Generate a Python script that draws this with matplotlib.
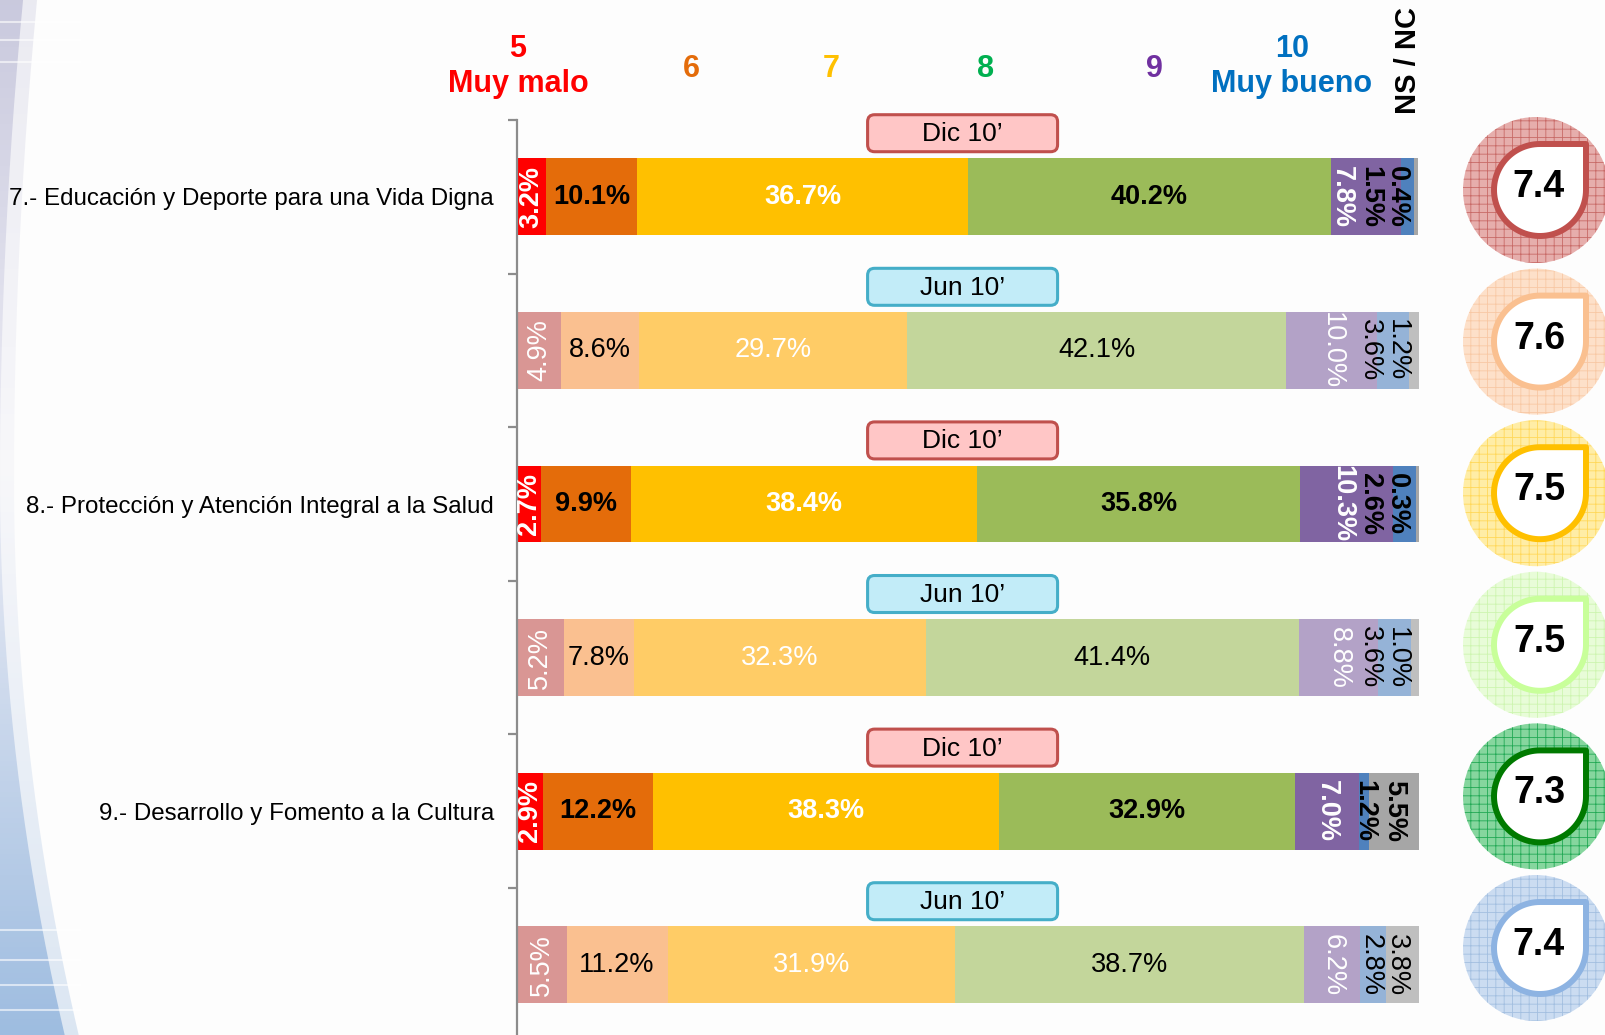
import matplotlib
matplotlib.use('Agg')
import matplotlib.pyplot as plt
import matplotlib.transforms as mtransforms
from matplotlib.patches import Circle, FancyBboxPatch, PathPatch
from matplotlib.path import Path
import numpy as np

# ---------------- data ----------------
categories = ['7.- Educación y Deporte para una Vida Digna',
              '8.- Protección y Atención Integral a la Salud',
              '9.- Desarrollo y Fomento a la Cultura']
periods = ['Dic 10’', 'Jun 10’', 'Dic 10’', 'Jun 10’', 'Dic 10’', 'Jun 10’']
scale_labels = ['5\nMuy malo', '6', '7', '8', '9', '10\nMuy bueno', 'NS / NC']
s5 = [3.2, 4.9, 2.7, 5.2, 2.9, 5.5]
s6 = [10.1, 8.6, 9.9, 7.8, 12.2, 11.2]
s7 = [36.7, 29.7, 38.4, 32.3, 38.3, 31.9]
s8 = [40.2, 42.1, 35.8, 41.4, 32.9, 38.7]
s9 = [7.8, 10.0, 10.3, 8.8, 7.0, 6.2]
s10 = [1.5, 3.6, 2.6, 3.6, 1.2, 2.8]
ns_nc = [0.4, 1.2, 0.3, 1.0, 5.5, 3.8]
scores = [7.4, 7.6, 7.5, 7.5, 7.3, 7.4]

# ---------------- styles ----------------
W, H = 1606, 1035
NARROW = ['Liberation Sans Narrow', 'Liberation Sans', 'DejaVu Sans']
SANS = ['Liberation Sans', 'DejaVu Sans']
dic_colors = ['#ff0000', '#e46c0a', '#ffc000', '#9bbb59', '#8064a2', '#4f81bd', '#a6a6a6']
jun_colors = ['#d99694', '#fac090', '#ffcc66', '#c3d69b', '#b3a2c7', '#95b3d7', '#bfbfbf']
txt_colors = ['white', 'black', 'white', 'black', 'white', 'black', 'black']
head_colors = ['#ff0000', '#e46c0a', '#ffc000', '#00b050', '#7030a0', '#0070c0', 'black']
head_x = [0.1, 19.3, 34.8, 51.9, 70.7, 85.9, 98.75]
circ_face = ['#e6aeac', '#fde0c9', '#ffeda6', '#e8fcd8', '#86d69e', '#cbdcf1']
circ_hatch = ['#c86a67', '#f8c8a4', '#ffd85a', '#cdf5b0', '#22a955', '#a3bfe0']
circ_edge = ['#c0504d', '#fac090', '#ffc000', '#c8ff9a', '#007a00', '#8db3e2']

plt.rcParams['font.family'] = SANS
fig = plt.figure(figsize=(W / 100, H / 100), dpi=100, facecolor='#fdfdfd')

# background layer (pixel coords)
bg = fig.add_axes([0, 0, 1, 1], zorder=0)
bg.set_xlim(0, W); bg.set_ylim(H, 0); bg.axis('off')
yy = np.linspace(0, H, 300)
xc = np.where(yy < 480, 0.0001 * (yy - 480) ** 2, 0.00021 * (yy - 480) ** 2)
for extra, alpha in [(14, 0.35), (0, 1.0)]:
    verts = [(0, 0)] + list(zip(xc + extra, yy)) + [(0, H), (0, 0)]
    clip = PathPatch(Path(verts), facecolor='none', edgecolor='none')
    bg.add_patch(clip)
    grad = np.zeros((200, 1, 3))
    t = np.linspace(0, 1, 200)
    top = np.array([0.79, 0.79, 0.87]); mid = np.array([0.93, 0.93, 0.96]); bot = np.array([0.62, 0.74, 0.88])
    for i, v in enumerate(t):
        grad[i, 0] = top + (mid - top) * (v / 0.45) if v < 0.45 else mid + (bot - mid) * ((v - 0.45) / 0.55)
    im = bg.imshow(grad, extent=[0, 120, H, 0], aspect='auto', alpha=alpha, zorder=1)
    im.set_clip_path(clip)
for yl in [22, 40, 62, 930, 960, 985, 1010]:
    bg.plot([0, 80], [yl, yl], color='white', lw=1.5, alpha=0.6, zorder=2)

# main axes
L, R, T, B = 517, 1419, 120, 1041.6
ax = fig.add_axes([L / W, 1 - B / H, (R - L) / W, (B - T) / H], zorder=2)
ax.patch.set_alpha(0)
series = [s5, s6, s7, s8, s9, s10, ns_nc]
rows = np.arange(len(s5))
left = np.zeros(len(s5))
for j, s in enumerate(series):
    cols = [dic_colors[j] if i % 2 == 0 else jun_colors[j] for i in rows]
    ax.barh(rows, s, left=left, height=0.5, color=cols, edgecolor='none', zorder=2)
    left = left + np.array(s)
ax.set_xlim(0, 100)
ax.set_ylim(5.5, -0.5)
for sp in ['top', 'right', 'bottom']:
    ax.spines[sp].set_visible(False)
ax.spines['left'].set_color('#8c8c8c'); ax.spines['left'].set_linewidth(1.6)
ax.set_xticks([])
ax.set_yticks(np.arange(-0.5, 6, 1))
ax.tick_params(axis='y', which='major', length=6.5, width=1.6, color='#8c8c8c', labelleft=False)
ax.set_yticks([0, 2, 4], minor=True)
ax.set_yticklabels(categories, minor=True, fontsize=17.4, family=SANS)
ax.tick_params(axis='y', which='minor', length=0, pad=16.5)

# segment labels
for i in rows:
    vals = [s[i] for s in series]
    cum = np.concatenate([[0], np.cumsum(vals)])
    centers = (cum[:-1] + cum[1:]) / 2
    pos = centers.copy()
    pos[6] = min(centers[6], 97.6)
    pos[5] = min(centers[5], pos[6] - 3.0)
    pos[4] = min(centers[4], pos[5] - 3.1)
    weight = 'bold' if i % 2 == 0 else 'normal'
    for j in range(7):
        rot = 90 if j == 0 else (270 if j >= 4 else 0)
        ax.text(pos[j], i, f'{vals[j]:.1f}%', rotation=rot, ha='center', va='center',
                rotation_mode='anchor', color=txt_colors[j], fontsize=19.5, weight=weight,
                family=SANS, zorder=4)

# foreground pixel layer
fg = fig.add_axes([0, 0, 1, 1], zorder=3)
fg.set_xlim(0, W); fg.set_ylim(H, 0); fg.axis('off'); fg.patch.set_alpha(0)

def px(xd, row):
    return L + xd / 100 * (R - L), T + (row + 0.5) * (B - T) / 6

# period boxes
for i, p in enumerate(periods):
    cx, cy = px(49.4, i - 0.414)
    fc, ec = ('#ffc6c6', '#c0504d') if i % 2 == 0 else ('#c2ecf8', '#45aec8')
    bw, bh = 190, 37
    fg.add_patch(FancyBboxPatch((cx - bw / 2, cy - bh / 2), bw, bh,
                                boxstyle='round,pad=0,rounding_size=7', fc=fc, ec=ec, lw=2.2))
    fg.text(cx, cy + 1, p, ha='center', va='center', fontsize=19, family=NARROW)

# header labels
hb = mtransforms.blended_transform_factory(ax.transData, fg.transData)
for k, lab in enumerate(scale_labels):
    if k == 6:
        ax.text(head_x[k], 61, lab, transform=hb, rotation=90, ha='center', va='center',
                fontsize=21, weight='bold', family=SANS, color=head_colors[k])
    elif '\n' in lab:
        a, b = lab.split('\n')
        ax.text(head_x[k], 49, a, transform=hb, ha='center', va='center', fontsize=22,
                weight='bold', family=NARROW, color=head_colors[k])
        ax.text(head_x[k], 84, b, transform=hb, ha='center', va='center', fontsize=22,
                weight='bold', family=NARROW, color=head_colors[k])
    else:
        ax.text(head_x[k], 69, lab, transform=hb, ha='center', va='center', fontsize=22,
                weight='bold', family=NARROW, color=head_colors[k])

# score circles
plt.rcParams['hatch.linewidth'] = 0.6
for k, sc in enumerate(scores):
    cx, cy = 1536, 190 + k * 151.6
    fg.add_patch(Circle((cx, cy), 73, fc=circ_face[k], ec='none', zorder=1))
    fg.add_patch(Circle((cx, cy), 73, fc='none', ec=circ_hatch[k], lw=0, hatch='++', zorder=2))
    r = 46; ix, iy = cx + 4, cy
    tt = np.linspace(0, 1.5 * np.pi, 80)
    verts = [(ix + r * np.cos(a), iy + r * np.sin(a)) for a in tt]
    verts += [(ix + r, iy - r), (ix + r, iy), (ix + r, iy)]
    codes = [Path.MOVETO] + [Path.LINETO] * (len(verts) - 2) + [Path.CLOSEPOLY]
    fg.add_patch(PathPatch(Path(verts, codes), fc='white', ec=circ_edge[k], lw=4.3,
                           joinstyle='round', zorder=3))
    fg.text(ix - 1, iy - 3, f'{sc:.1f}', ha='center', va='center', fontsize=27,
            weight='bold', family=SANS, zorder=4)

fig.savefig('out.png', dpi=100, facecolor=fig.get_facecolor())
